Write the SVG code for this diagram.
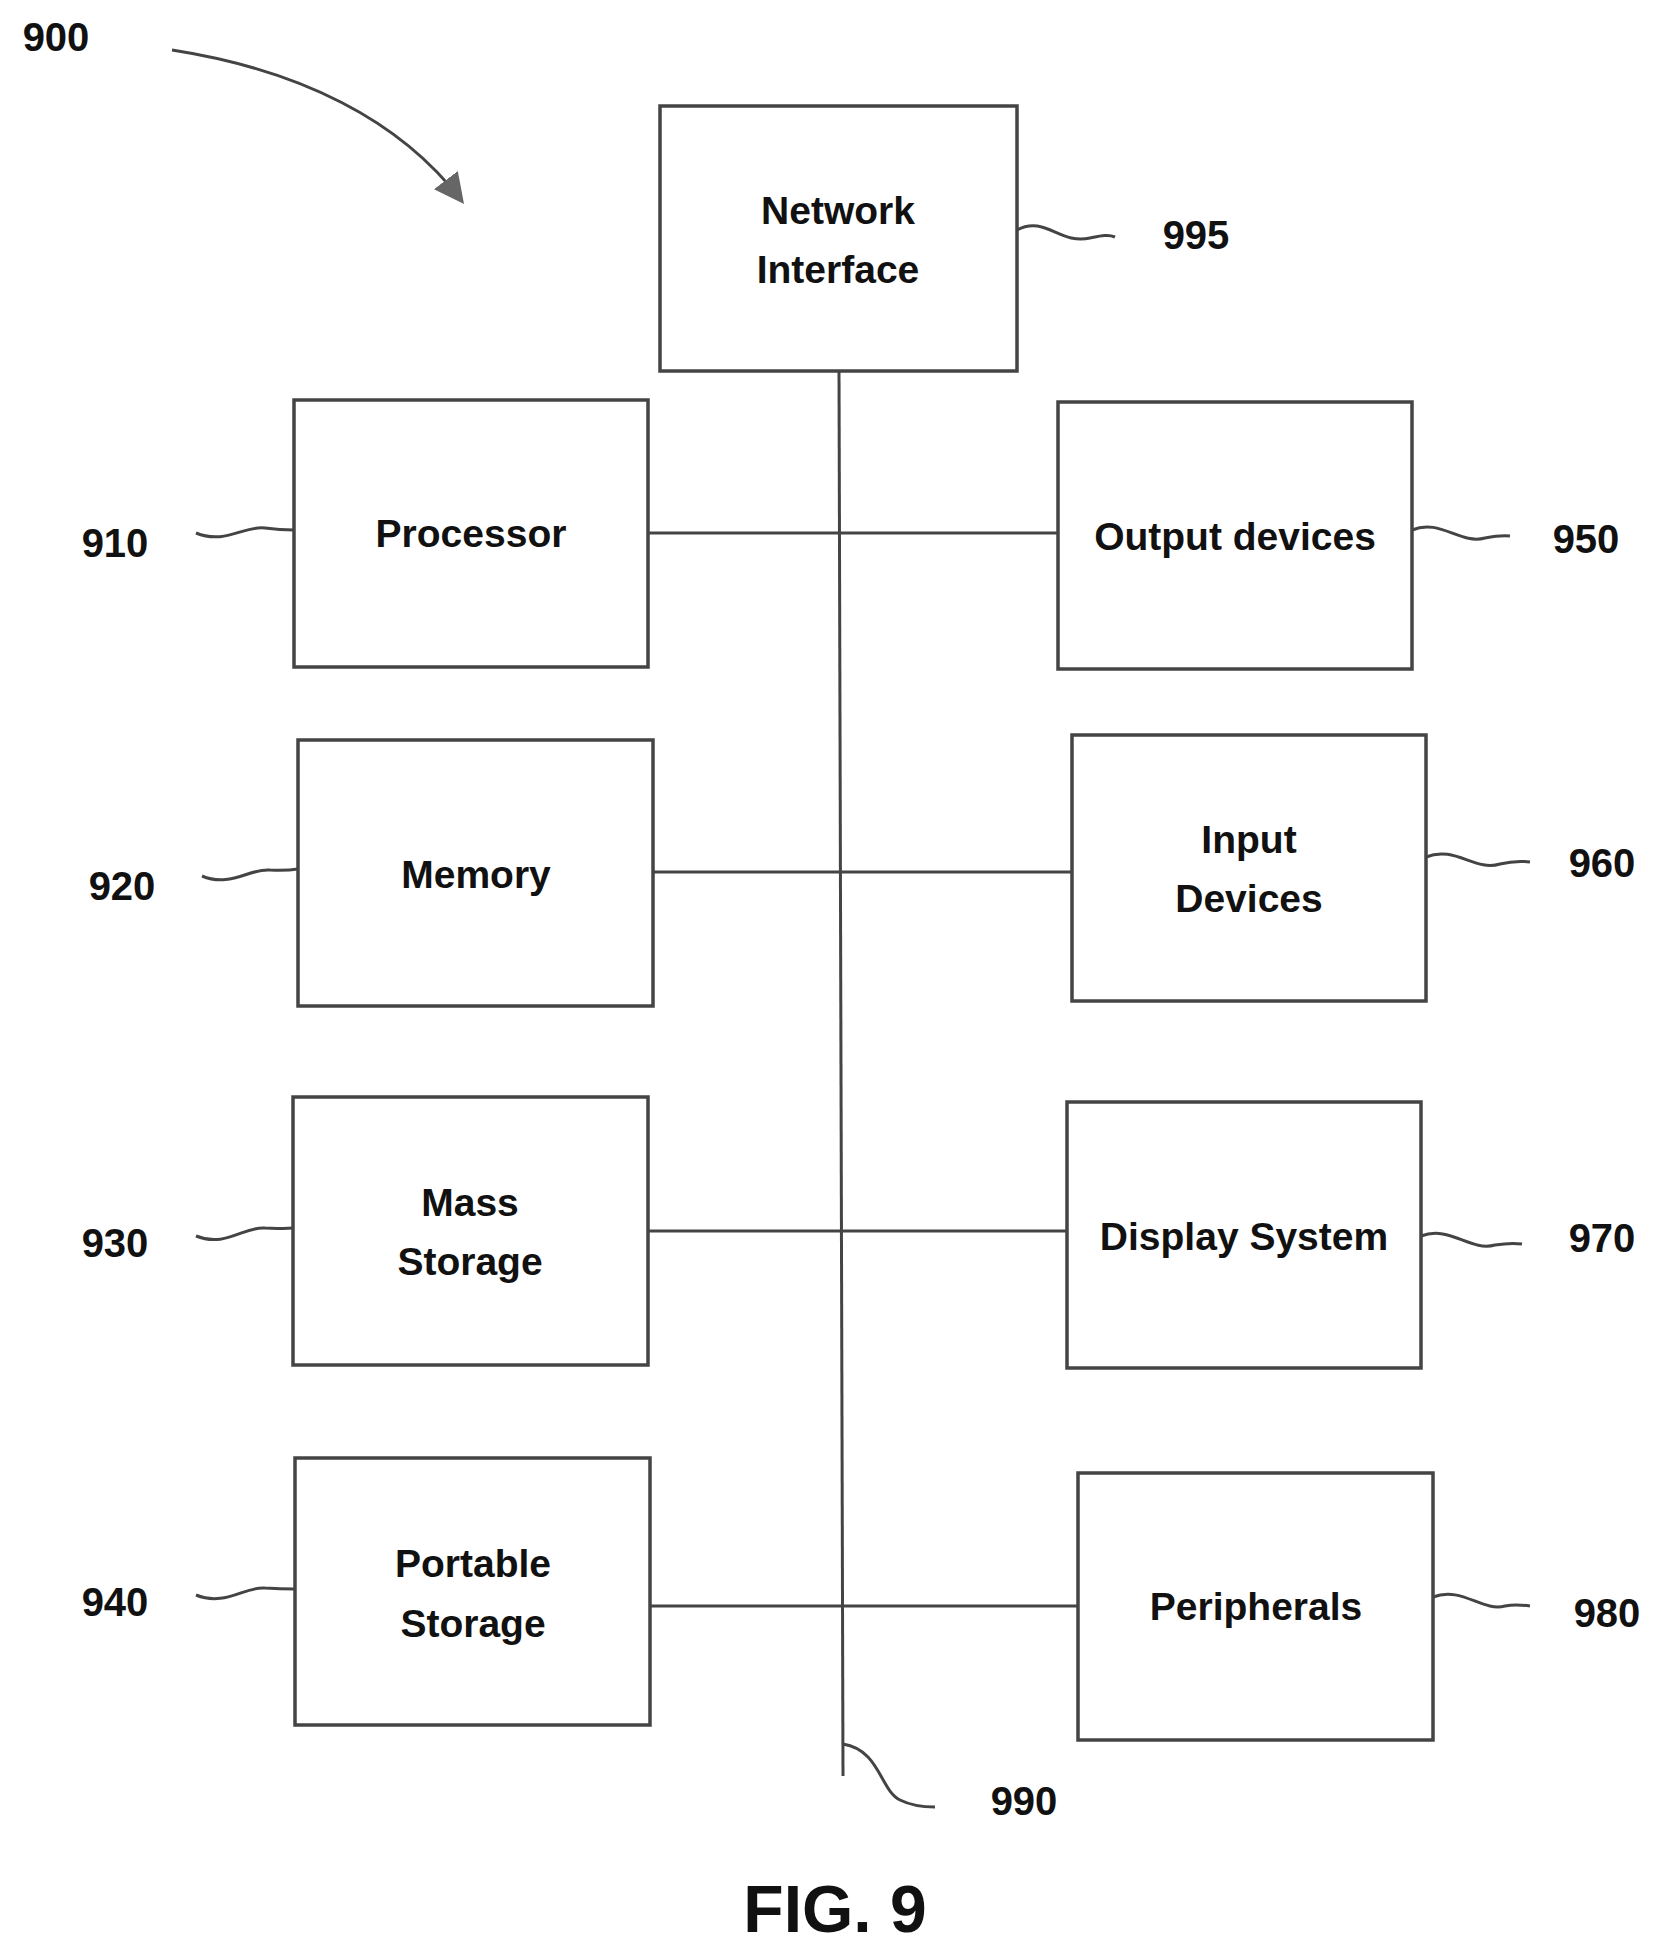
<svg xmlns="http://www.w3.org/2000/svg" width="1670" height="1958" viewBox="0 0 1670 1958">
<style>
.box{fill:#fff;stroke:#444;stroke-width:3.5}
.t{font-family:"Liberation Sans",Arial,sans-serif;font-weight:bold;font-size:39px;fill:#111;text-anchor:middle}
.n{font-family:"Liberation Sans",Arial,sans-serif;font-weight:bold;font-size:40px;fill:#111;text-anchor:middle}
.ln{fill:none;stroke:#444;stroke-width:3}
</style>
<defs><marker id="ah" markerWidth="10" markerHeight="10" refX="8" refY="5" orient="auto" markerUnits="userSpaceOnUse" viewBox="0 0 10 10"><path d="M0,0 L10,5 L0,10 z" fill="#555"/></marker>
<marker id="ah2" markerWidth="30" markerHeight="30" refX="25" refY="15" orient="auto" markerUnits="userSpaceOnUse" viewBox="0 0 30 30"><path d="M0,0 L30,15 L0,30 z" fill="#666"/></marker></defs>
<g id="connectors">
<path class="ln" d="M839,371 L843,1776"/>
<path class="ln" d="M648,533 H1058"/>
<path class="ln" d="M653,872 H1072"/>
<path class="ln" d="M648,1231 H1067"/>
<path class="ln" d="M650,1606 H1078"/>
<path class="ln" d="M172,50 C300,70 400,120 461,200" marker-end="url(#ah2)"/>
<path class="ln" d="M1017,230 C1045,215 1060,245 1090,238 C1100,236 1108,234 1115,237"/>
<path class="ln" d="M196,533 C225,545 245,525 265,528 C280,530 288,530 294,530"/>
<path class="ln" d="M1412,530 C1440,518 1460,545 1485,538 C1495,536 1503,535 1510,536"/>
<path class="ln" d="M202,876 C230,888 250,868 270,870 C285,871 292,870 298,869"/>
<path class="ln" d="M1426,857 C1455,845 1475,872 1500,864 C1512,861 1522,861 1530,862"/>
<path class="ln" d="M196,1236 C225,1248 245,1226 265,1228 C280,1229 288,1228 293,1228"/>
<path class="ln" d="M1421,1236 C1450,1225 1470,1252 1495,1245 C1507,1243 1515,1243 1522,1244"/>
<path class="ln" d="M196,1595 C225,1607 245,1586 265,1588 C280,1589 288,1589 295,1589"/>
<path class="ln" d="M1433,1597 C1462,1586 1482,1612 1505,1606 C1515,1604 1523,1605 1530,1606"/>
<path class="ln" d="M843,1744 C880,1750 880,1790 900,1800 C912,1806 925,1807 935,1807"/>
</g>
<g id="n995"><rect class="box" x="660" y="106" width="357" height="265"/><text class="t" x="838" y="224">Network</text><text class="t" x="838" y="283">Interface</text></g>
<g id="n910"><rect class="box" x="294" y="400" width="354" height="267"/><text class="t" x="471" y="547">Processor</text></g>
<g id="n950"><rect class="box" x="1058" y="402" width="354" height="267"/><text class="t" x="1235" y="550">Output devices</text></g>
<g id="n920"><rect class="box" x="298" y="740" width="355" height="266"/><text class="t" x="476" y="888">Memory</text></g>
<g id="n960"><rect class="box" x="1072" y="735" width="354" height="266"/><text class="t" x="1249" y="853">Input</text><text class="t" x="1249" y="912">Devices</text></g>
<g id="n930"><rect class="box" x="293" y="1097" width="355" height="268"/><text class="t" x="470" y="1216">Mass</text><text class="t" x="470" y="1275">Storage</text></g>
<g id="n970"><rect class="box" x="1067" y="1102" width="354" height="266"/><text class="t" x="1244" y="1250">Display System</text></g>
<g id="n940"><rect class="box" x="295" y="1458" width="355" height="267"/><text class="t" x="473" y="1577">Portable</text><text class="t" x="473" y="1637">Storage</text></g>
<g id="n980"><rect class="box" x="1078" y="1473" width="355" height="267"/><text class="t" x="1256" y="1620">Peripherals</text></g>
<g id="labels">
<text class="n" x="56" y="51">900</text>
<text class="n" x="1196" y="249">995</text>
<text class="n" x="115" y="557">910</text>
<text class="n" x="1586" y="553">950</text>
<text class="n" x="122" y="900">920</text>
<text class="n" x="1602" y="877">960</text>
<text class="n" x="115" y="1257">930</text>
<text class="n" x="1602" y="1252">970</text>
<text class="n" x="115" y="1616">940</text>
<text class="n" x="1607" y="1627">980</text>
<text class="n" x="1024" y="1815">990</text>
<text class="n" x="835" y="1932" style="font-size:66px">FIG. 9</text>
</g>
</svg>
